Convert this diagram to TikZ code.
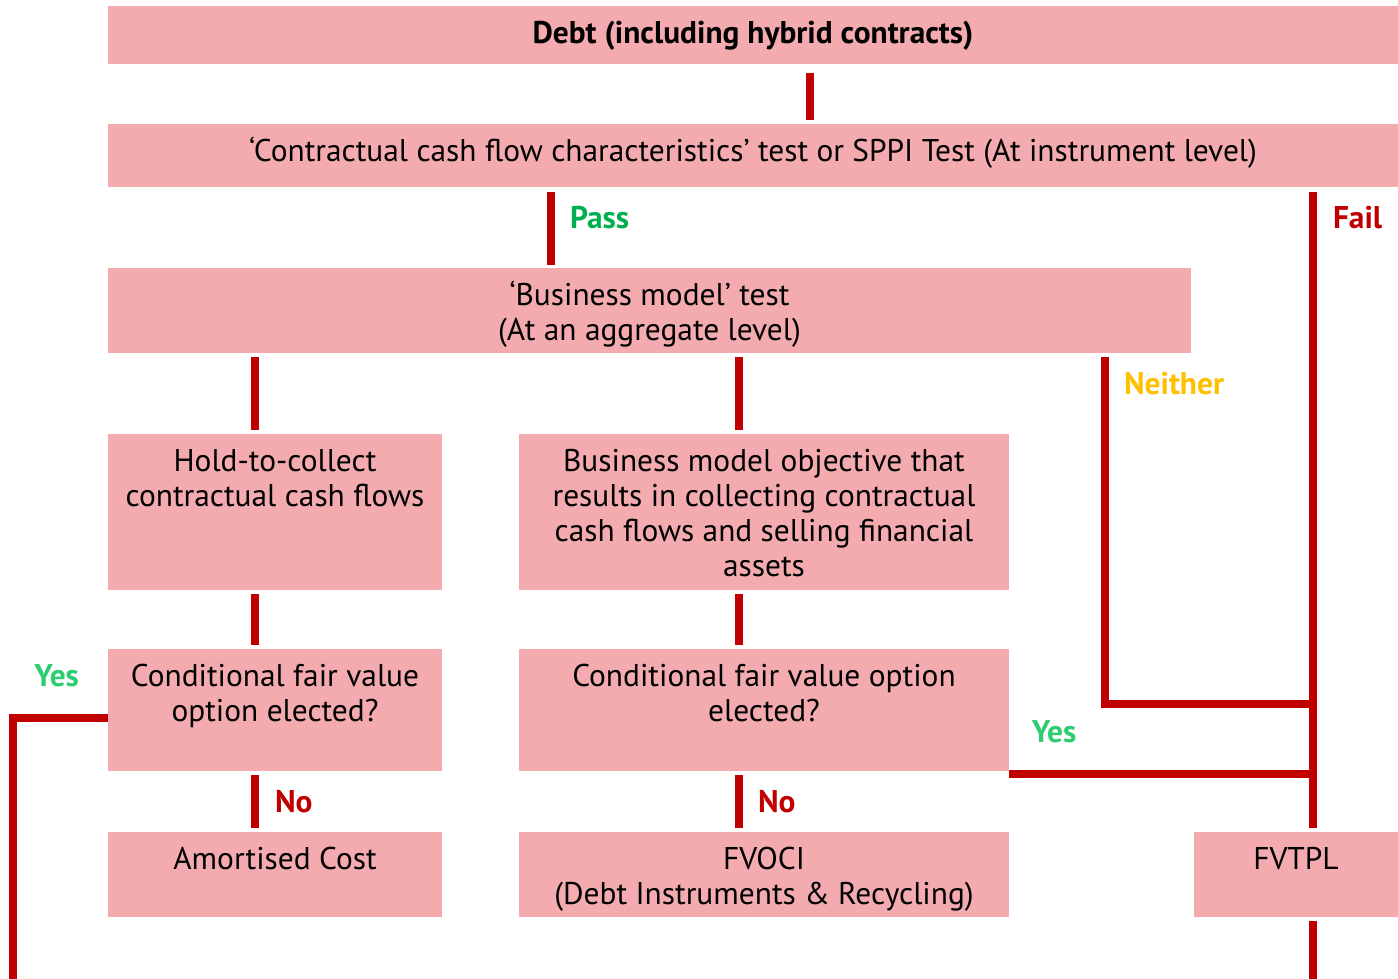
\documentclass[tikz,border=0pt]{standalone}
\usepackage{fontspec}
\setmainfont{PT Sans}
\usetikzlibrary{positioning}
\definecolor{boxpink}{RGB}{243,171,176}
\definecolor{linkred}{RGB}{192,0,0}
\definecolor{passgreen}{RGB}{0,176,80}
\definecolor{yesgreen}{RGB}{46,204,113}
\definecolor{neithergold}{RGB}{255,192,0}
\newlength{\px}
\setlength{\px}{0.5pt}
\newcommand{\boxlines}[3]{\parbox[c][#2][t]{#1}{\centering\rule{0pt}{18.9pt}#3}}

\begin{document}
\begin{tikzpicture}[
    x=\px, y=-\px,
    stage/.style={fill=boxpink, inner sep=0pt, outer sep=0pt, anchor=north west, font=\fontsize{15.7}{17.5}\selectfont},
    link/.style={line width=4pt, linkred},
    cond/.style={inner sep=0pt, font=\fontsize{15.7}{17.5}\selectfont\bfseries}
]
    \useasboundingbox (0,0) rectangle (1398,979);

    % Boxes - tests
    \node[stage] (debt) at (108,6) {\boxlines{1290\px}{58\px}{\bfseries Debt (including hybrid contracts)}};
    \node[stage, below=60\px of debt.south west, anchor=north west] (sppi) {\boxlines{1290\px}{63\px}{‘Contractual cash flow characteristics’ test or SPPI Test (At instrument level)}};
    \node[stage, below=81\px of sppi.south west, anchor=north west] (bm) {\boxlines{1083\px}{85\px}{‘Business model’ test\\(At an aggregate level)}};

    % Boxes - business models
    \node[stage, below=81\px of bm.south west, anchor=north west] (htc) {\boxlines{334\px}{156\px}{Hold-to-collect\\contractual cash flows}};
    \node[stage, right=77\px of htc.north east, anchor=north west] (bmo) {\boxlines{490\px}{156\px}{Business model objective that\\results in collecting contractual\\cash flows and selling financial\\assets}};

    % Boxes - fair value option
    \node[stage, below=59\px of htc.south west, anchor=north west] (cfvhtc) {\boxlines{334\px}{122\px}{Conditional fair value\\option elected?}};
    \node[stage, below=59\px of bmo.south west, anchor=north west] (cfvbmo) {\boxlines{490\px}{122\px}{Conditional fair value option\\elected?}};

    % Boxes - outcomes
    \node[stage, below=61\px of cfvhtc.south west, anchor=north west] (amort) {\boxlines{334\px}{85\px}{Amortised Cost}};
    \node[stage, below=61\px of cfvbmo.south west, anchor=north west] (fvoci) {\boxlines{490\px}{85\px}{FVOCI\\(Debt Instruments \& Recycling)}};
    \node[stage, right=185\px of fvoci.north east, anchor=north west] (fvtpl) {\boxlines{204\px}{85\px}{FVTPL}};

    % Line columns
    \coordinate (colA) at ([xshift=147\px]htc.north west);
    \coordinate (colB) at ([xshift=220\px]bmo.north west);
    \coordinate (colN) at ([xshift=997\px]bm.south west);
    \coordinate (failtop) at ([xshift=1205\px]sppi.south west);
    \coordinate (failjoin) at ([yshift=-55\px]cfvbmo.north -| failtop);
    \coordinate (yesstart) at ([yshift=-2.5\px]cfvbmo.south east);
    \coordinate (leftend) at (13,979);
    \coordinate (rightend) at (1313,979);

    % Connectors
    \draw[link, shorten <=9\px, shorten >=4\px] ([xshift=702\px]debt.south west) -- ([xshift=702\px]sppi.north west);
    \draw[link, shorten <=5\px, shorten >=3\px] ([xshift=443\px]sppi.south west) -- ([xshift=443\px]bm.north west)
        node[cond, text=passgreen, pos=0.38, anchor=west, xshift=15\px] (pass) {Pass};
    \draw[link, shorten <=5\px, shorten >=4\px] (failtop) -- (failtop |- fvtpl.north)
        node[cond, text=linkred, pos=0.048, anchor=west, xshift=16\px] (fail) {Fail};
    \draw[link, shorten <=4\px] (failtop |- fvtpl.south) -- (rightend);

    \draw[link, shorten <=4\px, shorten >=4\px] (bm.south -| colA) -- (colA);
    \draw[link, shorten <=4\px, shorten >=4\px] (bm.south -| colB) -- (colB);
    \draw[link, shorten <=4\px] (colN) |- (failjoin)
        node[cond, text=neithergold, pos=0.044, anchor=west, xshift=15\px] (neither) {Neither};

    \draw[link, shorten <=4\px, shorten >=4\px] (htc.south -| colA) -- (cfvhtc.north -| colA);
    \draw[link, shorten <=4\px, shorten >=4\px] (bmo.south -| colB) -- (cfvbmo.north -| colB);

    \draw[link, shorten <=4\px, shorten >=4\px] (cfvhtc.south -| colA) -- (amort.north -| colA)
        node[cond, text=linkred, midway, anchor=west, xshift=16\px] (noA) {No};
    \draw[link, shorten <=4\px, shorten >=4\px] (cfvbmo.south -| colB) -- (fvoci.north -| colB)
        node[cond, text=linkred, midway, anchor=west, xshift=15\px] (noB) {No};

    \draw[link] ([yshift=-8\px]cfvhtc.west) -| (leftend)
        node[cond, text=yesgreen, pos=0.27, anchor=base, yshift=32\px] (yesA) {Yes};
    \draw[link] (yesstart) -- (yesstart -| failtop)
        node[cond, text=yesgreen, pos=0.148, anchor=base, yshift=31.5\px] (yesB) {Yes};
\end{tikzpicture}
\end{document}
